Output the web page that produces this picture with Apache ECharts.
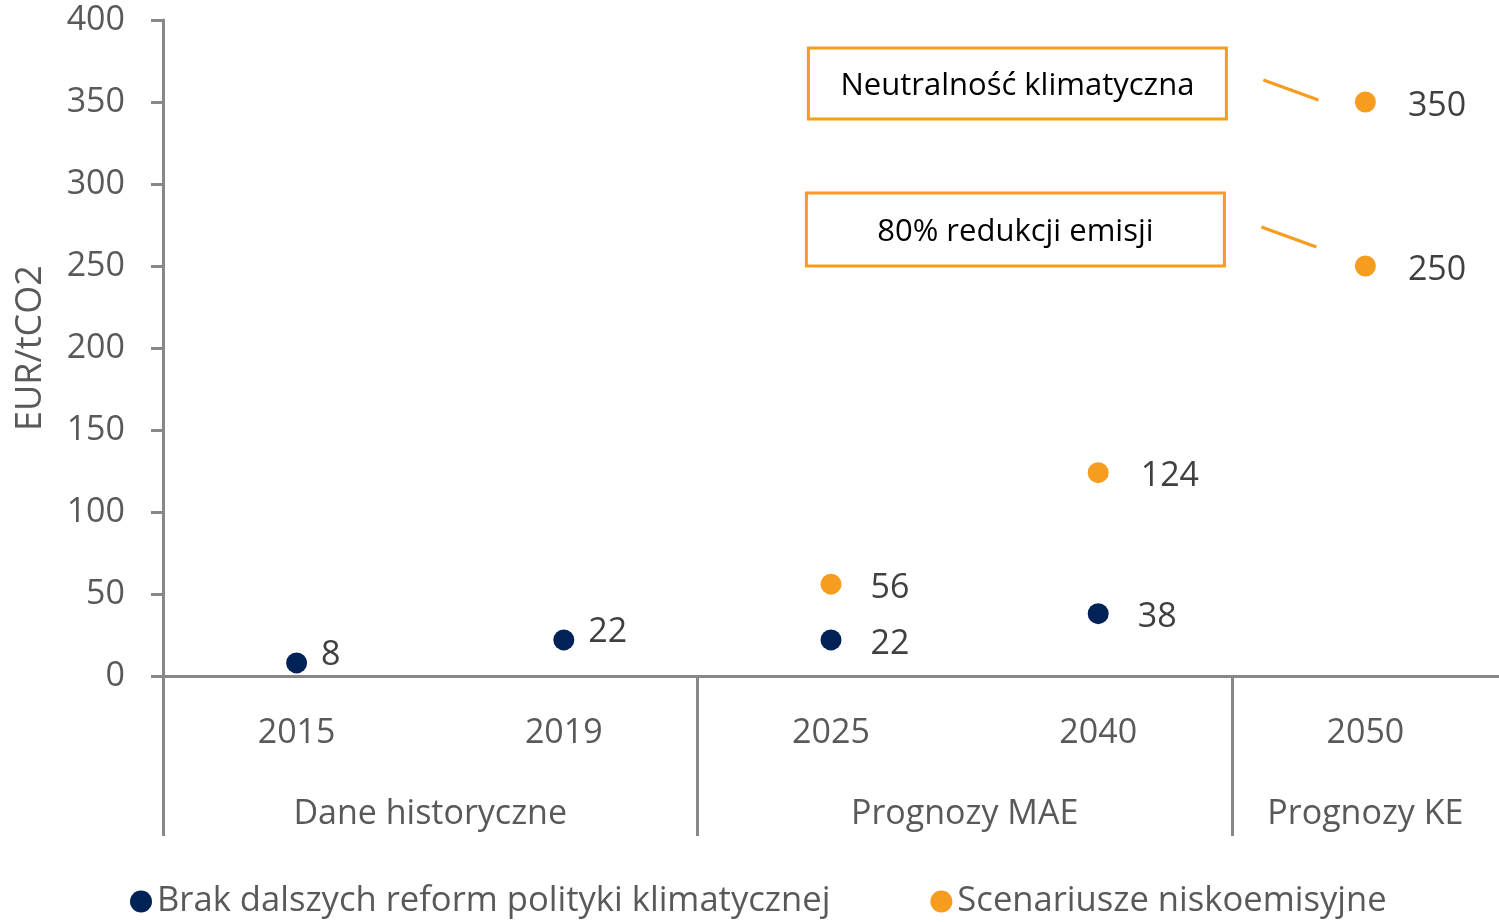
<!DOCTYPE html>
<html>
<head>
<meta charset="utf-8">
<script src="https://cdn.jsdelivr.net/npm/echarts@6/dist/echarts.min.js"></script>
<style>
  html, body { margin: 0; padding: 0; background: #fff; }
  #chart { width: 1499px; height: 922px; }
</style>
</head>
<body>
<div id="chart"></div>
<script>
// categories
var years = ['2015', '2019', '2025', '2040', '2050'];
var groupNames = ['Dane historyczne', 'Prognozy MAE', 'Prognozy KE'];
var groupSpans = [2, 2, 1];
var seriesNames = ['Brak dalszych reform polityki klimatycznej', 'Scenariusze niskoemisyjne'];
// series values
var baseYears = ['2015', '2019', '2025', '2040'];
var baseValues = [8, 22, 22, 38];
var lowYears = ['2025', '2040', '2050', '2050'];
var lowValues = [56, 124, 250, 350];
// annotations (text + value they point to at 2050)
var noteTexts = ['Neutralność klimatyczna', '80% redukcji emisji'];
var noteValues = [350, 250];

var NAVY = '#002256', ORANGE = '#F69C1F', AXIS = '#878787', TXT = '#595959', LBL = '#404040';
var FONT = 'Open Sans';

//分组中心与边界
var groupEdges = [0], groupCenters = [];
for (var i = 0; i < groupSpans.length; i++) {
	groupCenters.push(groupEdges[i] + groupSpans[i] / 2);
	groupEdges.push(groupEdges[i] + groupSpans[i]);
}

var chart = echarts.init(document.getElementById('chart'));

var baseData = [], lowData = [];
for (var i = 0; i < baseValues.length; i++) {
	var hist = years.indexOf(baseYears[i]) < groupSpans[0];
	baseData.push({
		value: [baseYears[i], baseValues[i]],
		label: hist ? { distance: 14, offset: [0, -8] } : { distance: 29, offset: [0, 4] }
	});
}
for (var i = 0; i < lowValues.length; i++) {
	lowData.push({ value: [lowYears[i], lowValues[i]], label: { distance: years.indexOf(lowYears[i]) > 2 ? 32 : 29, offset: [0, 4] } });
}

var labelOption = {
	show: true,
	position: 'right',
	formatter: function (p) { return p.value[1]; },
	color: LBL,
	fontSize: 34,
	fontFamily: FONT
};

var option = {
	animation: false,
	textStyle: { fontFamily: FONT },
	grid: { left: 163, right: 0, top: 20, bottom: 246, containLabel: false },
	legend: {
		left: 125,
		top: 879,
		icon: 'circle',
		itemWidth: 22,
		itemHeight: 22,
		itemGap: 100,
		textStyle: { fontSize: 34.6, color: TXT, fontFamily: FONT },
		data: seriesNames
	},
	xAxis: [
		{
			type: 'category',
			data: years,
			boundaryGap: true,
			axisLine: { lineStyle: { color: AXIS, width: 3 } },
			axisTick: { show: false },
			axisLabel: { margin: 40, fontSize: 34, color: TXT, fontFamily: FONT }
		},
		{
			type: 'value',
			min: 0,
			max: groupEdges[groupEdges.length - 1],
			position: 'bottom',
			axisLine: { show: false },
			splitLine: { show: false },
			axisTick: { show: true, customValues: groupEdges.slice(0, -1), length: 160, lineStyle: { color: AXIS, width: 3 } },
			axisLabel: {
				customValues: groupCenters,
				margin: 121,
				fontSize: 34,
				color: TXT,
				fontFamily: FONT,
				formatter: function (v) { return groupNames[groupCenters.indexOf(v)]; }
			}
		}
	],
	yAxis: {
		type: 'value',
		min: 0,
		max: 400,
		interval: 50,
		name: 'EUR/tCO2',
		nameLocation: 'middle',
		nameRotate: 90,
		nameGap: 114,
		nameTextStyle: { fontSize: 36, color: TXT, fontFamily: FONT },
		axisLine: { show: true, lineStyle: { color: AXIS, width: 3 } },
		axisTick: { show: true, length: 12, lineStyle: { color: AXIS, width: 3 } },
		axisLabel: { margin: 38, fontSize: 34, color: TXT, fontFamily: FONT },
		splitLine: { show: false }
	},
	series: [
		{
			name: seriesNames[0],
			type: 'scatter',
			symbol: 'circle',
			symbolSize: 21,
			itemStyle: { color: NAVY, opacity: 1 },
			label: labelOption,
			data: baseData,
			z: 3
		},
		{
			name: seriesNames[1],
			type: 'scatter',
			symbol: 'circle',
			symbolSize: 21,
			itemStyle: { color: ORANGE, opacity: 1 },
			label: labelOption,
			data: lowData,
			z: 3
		}
	]
};
chart.setOption(option);

//注释框，相对 2050 年的点定位
var noteLayout = [
	{ dx: -557, dy: -54, w: 418, h: 71, line: [-102, -22, -47, -2] },
	{ dx: -559, dy: -73, w: 418, h: 73, line: [-104, -39, -49, -19] }
];
var graphics = [];
for (var i = 0; i < noteTexts.length; i++) {
	var pt = chart.convertToPixel({ xAxisIndex: 0, yAxisIndex: 0 }, [years[years.length - 1], noteValues[i]]);
	var lay = noteLayout[i];
	graphics.push({
		type: 'rect',
		shape: { x: pt[0] + lay.dx, y: pt[1] + lay.dy, width: lay.w, height: lay.h },
		style: { fill: '#fff', stroke: ORANGE, lineWidth: 3 },
		z: 10
	});
	graphics.push({
		type: 'text',
		x: pt[0] + lay.dx + lay.w / 2,
		y: pt[1] + lay.dy + lay.h / 2 + 3,
		style: { text: noteTexts[i], fill: '#000', fontSize: 31, fontFamily: FONT, align: 'center', verticalAlign: 'middle' },
		z: 11
	});
	graphics.push({
		type: 'line',
		shape: { x1: pt[0] + lay.line[0], y1: pt[1] + lay.line[1], x2: pt[0] + lay.line[2], y2: pt[1] + lay.line[3] },
		style: { stroke: ORANGE, lineWidth: 3 },
		z: 10
	});
}
chart.setOption({ graphic: graphics });
</script>
</body>
</html>
